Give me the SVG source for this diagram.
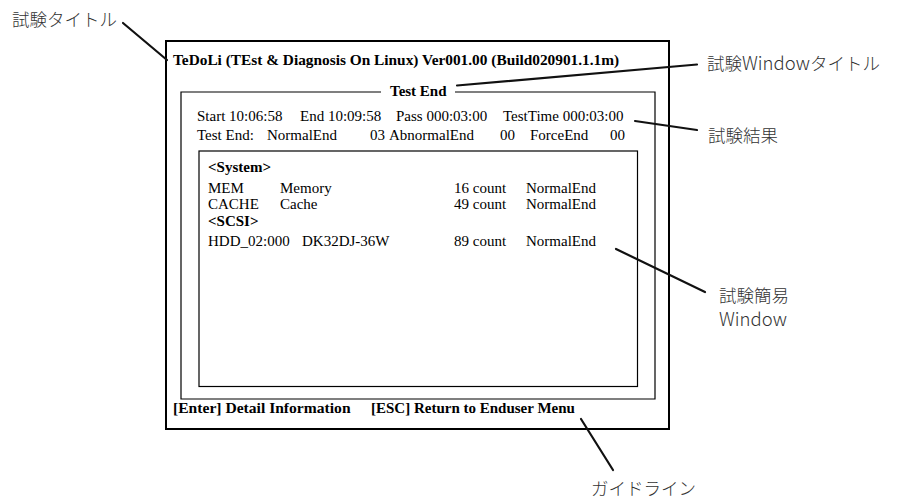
<svg xmlns="http://www.w3.org/2000/svg" width="900" height="500" viewBox="0 0 900 500">
<style>
  .scr { font-family: "Liberation Serif", "Times New Roman", serif; font-size: 15px; fill: #000; }
  .b { font-weight: bold; }
  .note { font-family: "Noto Sans CJK JP", "Noto Sans", sans-serif; font-size: 17.5px; font-weight: 300; fill: #333; }
  .lat { font-size: 18.5px; }
  .frame { fill: none; stroke: #000; }
  .lead { stroke: #111; stroke-width: 2.2; stroke-linecap: round; fill: none; }
</style>
<rect width="900" height="500" fill="#fff"/>

<g id="screen">
  <rect class="frame" x="166" y="41" width="503" height="388" stroke-width="2"/>
  <text class="scr b" x="173" y="65" style="font-size:15.35px">TeDoLi (TEst &amp; Diagnosis On Linux) Ver001.00 (Build020901.1.1m)</text>
  <text class="scr b" x="173" y="413" style="font-size:15.6px">[Enter] Detail Information</text>
  <text class="scr b" x="371" y="413">[ESC] Return to Enduser Menu</text>
</g>

<g id="test-end-window">
  <path class="frame" stroke-width="1.2" d="M381,92 H181 V399 H655 V92 H455"/>
  <text class="scr b" x="390" y="96">Test End</text>
  <text class="scr" y="121"><tspan x="197">Start 10:06:58</tspan><tspan x="300">End 10:09:58</tspan><tspan x="396">Pass 000:03:00</tspan><tspan x="503">TestTime 000:03:00</tspan></text>
  <text class="scr" y="139.5"><tspan x="197">Test End:</tspan><tspan x="267">NormalEnd</tspan><tspan x="370">03</tspan><tspan x="389">AbnormalEnd</tspan><tspan x="500">00</tspan><tspan x="530">ForceEnd</tspan><tspan x="610">00</tspan></text>
</g>

<g id="simple-window">
  <rect class="frame" x="199" y="151" width="438.5" height="235.5" stroke="#333" stroke-width="1.2"/>
  <text class="scr b" x="208" y="172">&lt;System&gt;</text>
  <text class="scr" y="192.5"><tspan x="208">MEM</tspan><tspan x="280">Memory</tspan><tspan x="454">16 count</tspan><tspan x="526">NormalEnd</tspan></text>
  <text class="scr" y="209"><tspan x="208">CACHE</tspan><tspan x="280">Cache</tspan><tspan x="454">49 count</tspan><tspan x="526">NormalEnd</tspan></text>
  <text class="scr b" x="208" y="225.5">&lt;SCSI&gt;</text>
  <text class="scr" y="246"><tspan x="208">HDD_02:000</tspan><tspan x="302">DK32DJ-36W</tspan><tspan x="454">89 count</tspan><tspan x="526">NormalEnd</tspan></text>
</g>

<g id="label-title"><text class="note" x="12" y="26">試験タイトル</text></g>
<g id="label-window-title"><text class="note" x="707" y="70">試験<tspan class="lat">Window</tspan>タイトル</text></g>
<g id="label-result"><text class="note" x="708" y="142">試験結果</text></g>
<g id="label-simple-window"><text class="note" x="719" y="302">試験簡易</text><text class="note lat" x="719" y="326">Window</text></g>
<g id="label-guideline"><text class="note" x="591" y="495">ガイドライン</text></g>

<g id="connectors">
  <line class="lead" x1="123" y1="23" x2="167" y2="60"/>
  <line class="lead" x1="457" y1="85.5" x2="697" y2="64.5"/>
  <line class="lead" x1="635" y1="121" x2="697" y2="130"/>
  <line class="lead" x1="616" y1="249" x2="705" y2="292"/>
  <line class="lead" x1="581" y1="419" x2="613" y2="470"/>
</g>
</svg>
